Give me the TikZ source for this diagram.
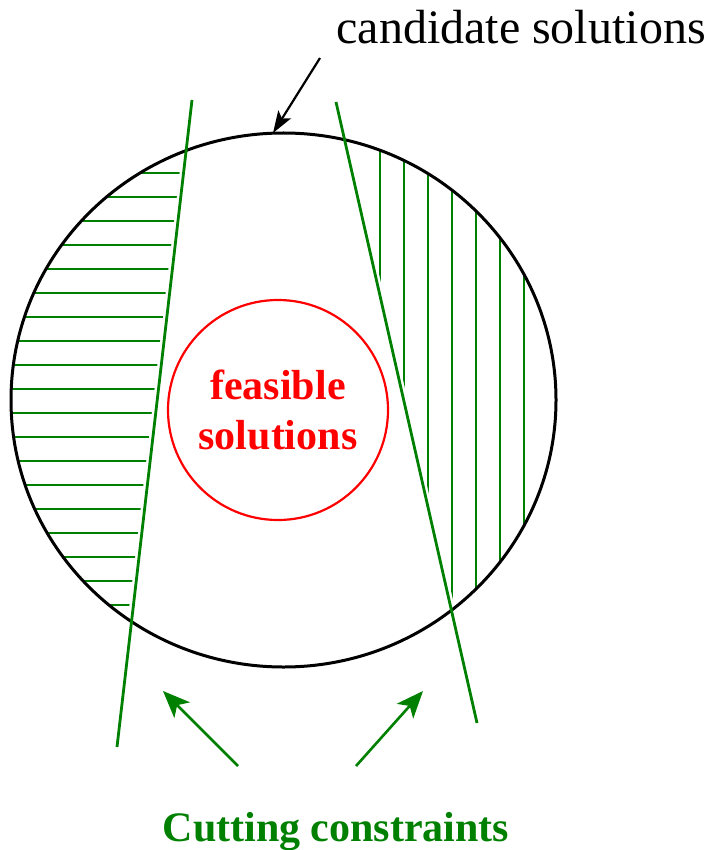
\documentclass[tikz,border=0pt]{standalone}
\usepackage{fontspec}
\setmainfont{Liberation Serif}
\usetikzlibrary{arrows.meta,positioning,calc}
\definecolor{cutgreen}{RGB}{0,128,0}

\tikzset{
  cutline/.style={cutgreen, line width=2.8pt},
  hatch/.style={cutgreen, line width=2.8pt},
  pointer/.style={line width=2.6pt, -{Stealth[length=27pt,width=22pt,inset=7pt]}},
}

\begin{document}
\begin{tikzpicture}[x=1pt,y=-1pt]
  \useasboundingbox (0,0) rectangle (710,850);
  % hatched parts cut away from the candidate set
  \begin{scope}
    \clip (283.5,400) ellipse (272.5 and 267);
    \clip (-10,100) -- (188,100) -- (113,747) -- (-10,747) -- cycle;
    \foreach \y in {173,197,...,606}
      \draw[hatch] (0,\y) -- (300,\y);
  \end{scope}
  \begin{scope}
    \clip (283.5,400) ellipse (272.5 and 267);
    \clip (340,102) -- (481,723) -- (720,723) -- (720,102) -- cycle;
    \foreach \x in {380,404,...,524}
      \draw[hatch] (\x,100) -- (\x,700);
  \end{scope}
  % candidate solutions
  \draw[line width=3pt] (283.5,400) ellipse (272.5 and 267);
  \coordinate (candtop) at (273,133);
  \node[font=\fontsize{48}{50}\selectfont, anchor=base] (cand) at (521,44) {candidate solutions};
  \coordinate (candfrom) at (320,58);
  \draw[pointer, line width=2.2pt, -{Stealth[length=22pt,width=15pt,inset=5pt]}] (candfrom) -- (candtop);
  % feasible solutions
  \node[circle, draw=red, line width=2.2pt, minimum size=220pt, inner sep=0pt,
        text=red, align=center, font=\fontsize{42}{50}\selectfont\bfseries] (feas) at (278,410)
        {feasible\\solutions};
  % cutting planes
  \coordinate (cutAtop) at (192,100);
  \coordinate (cutAbot) at (117,747);
  \coordinate (cutBtop) at (336,102);
  \coordinate (cutBbot) at (477,723);
  \draw[cutline] (cutAtop) -- (cutAbot);
  \draw[cutline] (cutBtop) -- (cutBbot);
  \node[text=cutgreen, font=\fontsize{42}{50}\selectfont\bfseries, anchor=base] (cuts) at (336,841)
    {Cutting constraints};
  \coordinate (leftfrom) at (238,766);
  \coordinate (lefttip) at (163,691);
  \coordinate (rightfrom) at (356,766);
  \coordinate (righttip) at (423,691);
  \draw[pointer, cutgreen] (leftfrom) -- (lefttip);
  \draw[pointer, cutgreen] (rightfrom) -- (righttip);
\end{tikzpicture}
\end{document}
